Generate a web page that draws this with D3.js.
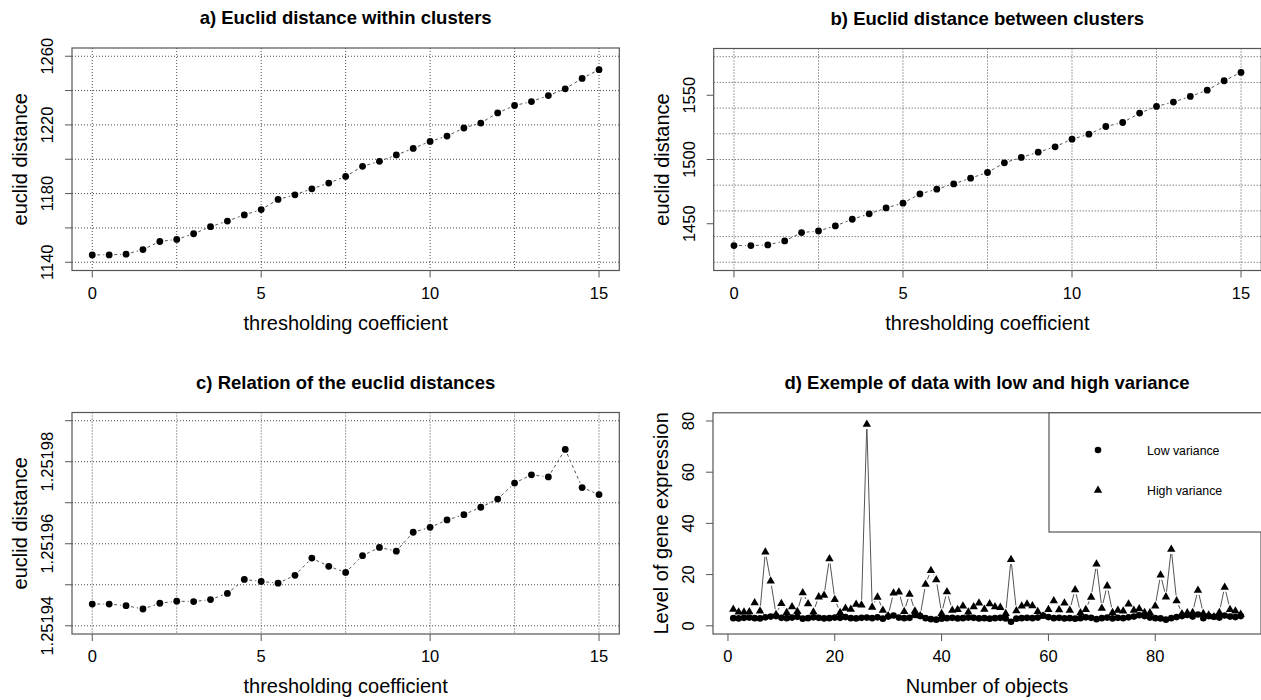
<!DOCTYPE html>
<html><head><meta charset="utf-8">
<script src="https://cdn.jsdelivr.net/npm/d3@7"></script>
<style>body{margin:0;background:#fff}svg{display:block}text{font-family:"Liberation Sans",Arial,sans-serif;fill:#000}</style>
</head><body><svg id="c" width="1261" height="700"></svg>
<script>
// ---- data ----
const coef = [0,0.5,1,1.5,2,2.5,3,3.5,4,4.5,5,5.5,6,6.5,7,7.5,8,8.5,9,9.5,10,10.5,11,11.5,12,12.5,13,13.5,14,14.5,15];
const within = [1144.3,1144.3,1144.7,1147.4,1152.1,1153.3,1156.6,1160.7,1164.0,1167.6,1170.7,1176.6,1179.3,1182.8,1186.1,1190.0,1195.9,1198.8,1202.5,1206.3,1210.4,1213.5,1218.2,1221.1,1227.0,1231.3,1233.6,1237.1,1241.0,1247.1,1252.2];
const between = [1433.0,1433.0,1433.5,1436.6,1443.1,1444.4,1448.3,1453.5,1457.7,1462.3,1466.0,1473.2,1476.9,1481.0,1485.5,1489.9,1497.4,1501.6,1505.7,1509.9,1515.8,1519.7,1525.7,1528.8,1536.1,1541.3,1544.7,1549.1,1554.0,1561.3,1567.8];
const relation = [1.2519453,1.2519453,1.2519449,1.2519441,1.2519455,1.2519460,1.2519459,1.2519464,1.2519479,1.2519513,1.2519508,1.2519504,1.2519523,1.2519565,1.2519545,1.2519530,1.2519571,1.2519591,1.2519582,1.2519628,1.2519640,1.2519658,1.2519671,1.2519689,1.2519709,1.2519748,1.2519768,1.2519763,1.2519830,1.2519737,1.2519720];
const lowVar = [3.0,2.9,3.1,3.2,3.0,2.9,3.3,3.6,3.8,3.1, 3.0,3.2,3.5,2.8,3.0,3.3,3.1,2.9,3.0,3.2, 3.1,3.4,3.0,2.9,3.1,3.2,3.0,3.3,2.8,3.6, 4.0,3.2,3.0,3.1,4.2,3.8,3.0,2.6,2.4,2.8, 3.0,3.1,2.9,3.0,3.2,3.1,2.9,3.0,2.8,3.0, 3.1,2.9,1.6,2.8,3.0,3.1,3.0,3.2,4.0,3.4, 3.0,3.1,2.9,3.0,2.8,3.0,3.3,3.1,2.6,3.0, 3.2,2.9,3.1,3.0,3.3,3.6,4.1,3.8,3.2,3.0, 2.9,2.4,3.0,3.4,3.8,4.2,3.6,4.4,3.0,3.8, 3.5,3.2,4.0,3.6,3.4,3.8];
const highVar = [6.6,5.5,5.5,5.6,9.1,5.9,28.9,17.6,4.5,8.8, 5.3,7.5,5.7,13.0,8.7,5.5,11.4,12.0,26.3,10.4, 5.3,7.0,6.6,8.5,8.2,78.8,7.4,11.3,6.2,4.0, 12.9,13.3,5.7,12.4,5.9,4.0,16.3,21.7,18.1,4.9, 13.4,6.2,6.5,7.8,5.5,7.5,9.0,6.6,8.7,7.5, 7.3,4.9,26.0,6.0,7.8,8.6,7.9,5.7,3.8,6.5, 9.9,6.4,9.0,6.2,14.2,5.2,6.5,11.3,24.2,7.0, 15.7,5.3,6.2,5.9,8.6,6.2,6.8,5.3,5.2,7.8, 19.9,11.4,30.0,9.9,4.8,5.2,5.3,14.0,4.9,4.3, 3.6,5.3,15.2,6.5,5.9,4.6];
const objIdx = d3.range(1, 97);
const coefTicks = [0,5,10,15];
const coefGrid = [0,2.5,5,7.5,10,12.5,15];
const withinTicks = [1140,1160,1180,1200,1220,1240,1260];
const withinLabels = [1140,1180,1220,1260];
const betweenGrid = [1420,1440,1460,1480,1500,1520,1540,1560,1580];
const betweenTicks = [1450,1500,1550];
const relationTicks = [1.25194,1.25195,1.25196,1.25197,1.25198,1.25199];
const relationLabels = ["1.25194","1.25196","1.25198"];
const exprTicks = [0,20,40,60,80];
const objTicks = [0,20,40,60,80];
const titles = ["a) Euclid distance within clusters","b) Euclid distance between clusters","c) Relation of the euclid distances","d) Exemple of data with low and high variance"];
const legendLabels = ["Low variance","High variance"];

const svg = d3.select("#c");
const boxCol = "#555", gridCol = "#4a4a4a", lineCol = "#555";

function triPath(x,y,s){ // filled triangle, s = half width
  const h = s*1.732;
  return `M${x},${y-h*0.62}L${x+s},${y+h*0.38}L${x-s},${y+h*0.38}Z`;
}

function linesB(g, pts, gap, dash){
  for(let i=0;i<pts.length-1;i++){
    const [x1,y1]=pts[i],[x2,y2]=pts[i+1];
    const dx=x2-x1, dy=y2-y1, L=Math.hypot(dx,dy);
    if(L<=2*gap) continue;
    const ux=dx/L, uy=dy/L;
    g.append("line").attr("x1",x1+ux*gap).attr("y1",y1+uy*gap).attr("x2",x2-ux*gap).attr("y2",y2-uy*gap)
      .attr("stroke",lineCol).attr("stroke-width",1).attr("stroke-dasharray",dash||null);
  }
}

function panel(o){
  const g = svg.append("g");
  const x = d3.scaleLinear().domain(o.xd).range([o.L,o.R]);
  const y = d3.scaleLinear().domain(o.yd).range([o.B,o.T]);
  if(o.gx){
    o.gx.forEach(v=>g.append("line").attr("x1",x(v)).attr("x2",x(v)).attr("y1",o.T).attr("y2",o.B)
      .attr("stroke",gridCol).attr("stroke-dasharray","1,2"));
    o.gy.forEach(v=>g.append("line").attr("y1",y(v)).attr("y2",y(v)).attr("x1",o.L).attr("x2",o.R)
      .attr("stroke",gridCol).attr("stroke-dasharray","1,2"));
  }
  g.append("rect").attr("x",o.L).attr("y",o.T).attr("width",o.R-o.L).attr("height",o.B-o.T)
    .attr("fill","none").attr("stroke",boxCol).attr("stroke-width",1.2);
  o.xt.forEach(v=>{
    g.append("line").attr("x1",x(v)).attr("x2",x(v)).attr("y1",o.B).attr("y2",o.B+7).attr("stroke",boxCol);
    g.append("text").attr("x",x(v)).attr("y",o.B+28).attr("text-anchor","middle").attr("font-size",16.5).text(v);
  });
  o.yt.forEach(v=>g.append("line").attr("y1",y(v)).attr("y2",y(v)).attr("x1",o.L).attr("x2",o.L-7).attr("stroke",boxCol));
  o.yl.forEach((v,i)=>{
    const yy = y(o.ylv ? o.ylv[i] : v);
    g.append("text").attr("transform",`translate(${o.L-19},${yy}) rotate(-90)`).attr("text-anchor","middle")
      .attr("font-size",16.5).text(v);
  });
  g.append("text").attr("x",(o.L+Math.min(o.R,1261))/2).attr("y",o.T-24).attr("text-anchor","middle")
    .attr("font-size",18.5).attr("font-weight","bold").text(o.title);
  g.append("text").attr("x",(o.L+Math.min(o.R,1261))/2).attr("y",o.B+59).attr("text-anchor","middle")
    .attr("font-size",20).text(o.xlab);
  g.append("text").attr("transform",`translate(${o.L-45},${(o.T+o.B)/2}) rotate(-90)`).attr("text-anchor","middle")
    .attr("font-size",20).text(o.ylab);
  return {g,x,y};
}

function seriesPanel(o, xs, ys){
  const p = panel(o);
  const pts = xs.map((v,i)=>[p.x(v),p.y(ys[i])]);
  linesB(p.g, pts, 5, "3,3");
  pts.forEach(([a,b])=>p.g.append("circle").attr("cx",a).attr("cy",b).attr("r",3.4).attr("fill","#000"));
}

seriesPanel({L:72,R:619.3,T:48,B:270.5,xd:[-0.6,15.6],yd:[1135.2,1264.8],gx:coefGrid,gy:withinTicks,
  xt:coefTicks,yt:withinTicks,yl:withinLabels,title:titles[0],xlab:"thresholding coefficient",ylab:"euclid distance"},coef,within);
seriesPanel({L:713.7,R:1261.3,T:48.5,B:270.5,xd:[-0.6,15.6],yd:[1413.6,1586.4],gx:coefGrid,gy:betweenGrid,
  xt:coefTicks,yt:betweenTicks,yl:betweenTicks,title:titles[1],xlab:"thresholding coefficient",ylab:"euclid distance"},coef,between);
seriesPanel({L:72,R:619.3,T:412.5,B:634,xd:[-0.6,15.6],yd:[1.251938,1.251992],gx:coefGrid,gy:relationTicks,
  xt:coefTicks,yt:relationTicks,yl:relationLabels,ylv:[1.25194,1.25196,1.25198],title:titles[2],xlab:"thresholding coefficient",ylab:"euclid distance"},coef,relation);

(function(){
  const o = {L:713,R:1261,T:412.8,B:634,xd:[-2.8,99.8],yd:[-3.2,83.2],xt:objTicks,yt:exprTicks,yl:exprTicks,
    title:titles[3],xlab:"Number of objects",ylab:"Level of gene expression"};
  const p = panel(o);
  const lp = objIdx.map((v,i)=>[p.x(v),p.y(lowVar[i])]);
  const hp = objIdx.map((v,i)=>[p.x(v),p.y(highVar[i])]);
  linesB(p.g, lp, 4, null);
  linesB(p.g, hp, 5, null);
  lp.forEach(([a,b])=>p.g.append("circle").attr("cx",a).attr("cy",b).attr("r",3.3).attr("fill","#000"));
  hp.forEach(([a,b])=>p.g.append("path").attr("d",triPath(a,b,4.2)).attr("fill","#000"));
  const lx = 1049, ly = o.T;
  p.g.append("rect").attr("x",lx).attr("y",ly).attr("width",1261-lx+2).attr("height",532-ly)
    .attr("fill","#fff").attr("stroke",boxCol).attr("stroke-width",1.2);
  p.g.append("circle").attr("cx",1098).attr("cy",450).attr("r",3.3).attr("fill","#000");
  p.g.append("path").attr("d",triPath(1098,490,4.2)).attr("fill","#000");
  p.g.append("text").attr("x",1147).attr("y",454.5).attr("font-size",12.3).text(legendLabels[0]);
  p.g.append("text").attr("x",1147).attr("y",494.5).attr("font-size",12.3).text(legendLabels[1]);
})();
</script></body></html>
